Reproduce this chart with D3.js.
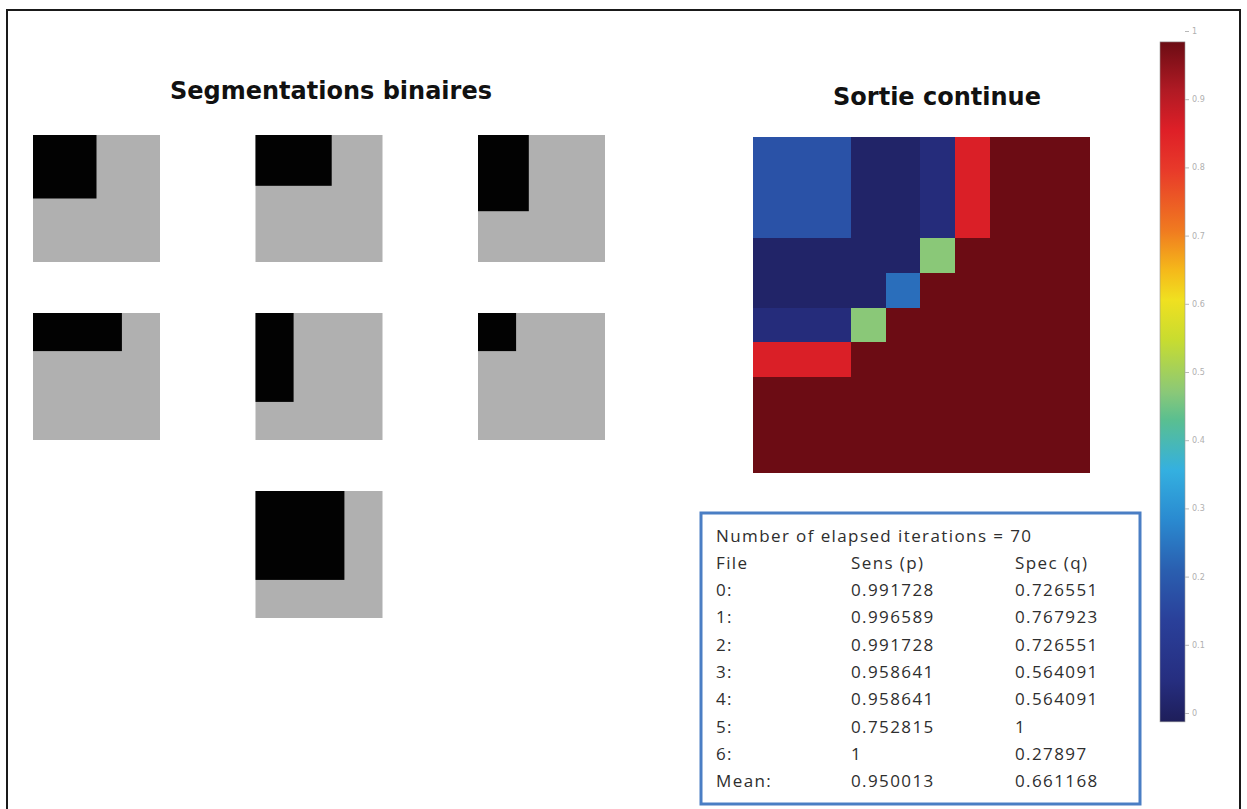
<!DOCTYPE html>
<html><head><meta charset="utf-8">
<script src="https://cdn.jsdelivr.net/npm/d3@7"></script>
<style>body{margin:0;background:#fff}svg{display:block}</style>
</head><body>
<svg id="c" width="1247" height="809"></svg>
<script>
// ---- data ----
const segNames = ["A","B","C","D","E","F","G"];
const segWidth  = [0.5, 0.6, 0.4, 0.7, 0.3, 0.3, 0.7];
const segHeight = [0.5, 0.4, 0.6, 0.3, 0.7, 0.3, 0.7];
const segCol = [0, 1, 2, 0, 1, 2, 1];
const segRow = [0, 0, 0, 1, 1, 1, 2];

// continuous output matrix (rows top->bottom, cols left->right)
const heat = [
  [0.18,0.18,0.18,0.01,0.01,0.04,0.86,1,1,1],
  [0.18,0.18,0.18,0.01,0.01,0.04,0.86,1,1,1],
  [0.18,0.18,0.18,0.01,0.01,0.04,0.86,1,1,1],
  [0.01,0.01,0.01,0.01,0.01,0.47,1,1,1,1],
  [0.01,0.01,0.01,0.01,0.235,1,1,1,1,1],
  [0.04,0.04,0.04,0.47,1,1,1,1,1,1],
  [0.86,0.86,0.86,1,1,1,1,1,1,1],
  [1,1,1,1,1,1,1,1,1,1],
  [1,1,1,1,1,1,1,1,1,1],
  [1,1,1,1,1,1,1,1,1,1]
];

const colorbarTicks = [0,0.1,0.2,0.3,0.4,0.5,0.6,0.7,0.8,0.9,1];
const colorStopValues = [-0.013,0.048,0.136,0.21,0.283,0.356,0.43,0.47,0.547,0.606,0.65,0.708,0.796,0.855,0.913,0.984];
const colorStopColors = ["#1e1e5a","#262e80","#2a409a","#2a5fb0","#2a8ad0","#34b0e0","#5abf90","#8ac878","#c8dc30","#f0e020","#f5b81a","#f07a20","#e83a2a","#de1f27","#b01a24","#6c0c14"];

const iterations = 70;
const tableHeader = ["File","Sens (p)","Spec (q)"];
const fileLabels = ["0:","1:","2:","3:","4:","5:","6:","Mean:"];
const sensValues = ["0.991728","0.996589","0.991728","0.958641","0.958641","0.752815","1","0.950013"];
const specValues = ["0.726551","0.767923","0.726551","0.564091","0.564091","1","0.27897","0.661168"];

// ---- drawing ----
const svg = d3.select("#c");

// frame
svg.append("rect").attr("x",7).attr("y",10).attr("width",1233).attr("height",820)
  .attr("fill","none").attr("stroke","#1a1a1a").attr("stroke-width",2);

// titles
svg.append("text").attr("x",331).attr("y",99).attr("text-anchor","middle")
  .attr("font-family","DejaVu Sans").attr("font-weight","bold").attr("font-size",24)
  .attr("fill","#111").text("Segmentations binaires");
svg.append("text").attr("x",937).attr("y",105).attr("text-anchor","middle")
  .attr("font-family","DejaVu Sans").attr("font-weight","bold").attr("font-size",24)
  .attr("fill","#111").text("Sortie continue");

// binary segmentation panels
const panelX = d3.scaleLinear().domain([0,2]).range([33,478]);
const panelY = d3.scaleLinear().domain([0,2]).range([135,491]);
const panelSize = 127;
const segs = segNames.map((n,i)=>({n, w:segWidth[i], h:segHeight[i], c:segCol[i], r:segRow[i]}));
const pg = svg.selectAll("g.panel").data(segs).join("g").attr("class","panel")
  .attr("transform", d=>`translate(${panelX(d.c)},${panelY(d.r)})`);
const fx = d3.scaleLinear().domain([0,1]).range([0,panelSize]);
const fy = d3.scaleLinear().domain([0,1]).range([0,panelSize]);
pg.append("rect").attr("width",fx(1)).attr("height",fy(1)).attr("fill","#b0b0b0");
pg.append("rect").attr("width",d=>fx(d.w)).attr("height",d=>fy(d.h)).attr("fill","#020202");

// colour scale
const color = d3.scaleLinear().domain(colorStopValues).range(colorStopColors).clamp(true);

// heatmap
const hx = d3.scaleLinear().domain([0.17,9.89]).range([753,1090]);
const hy = d3.scaleLinear().domain([0.07,9.77]).range([137,473]);
svg.append("clipPath").attr("id","hclip").append("rect")
  .attr("x",hx(0.17)).attr("y",hy(0.07)).attr("width",hx(9.89)-hx(0.17)).attr("height",hy(9.77)-hy(0.07));
const cells = [];
heat.forEach((row,r)=>row.forEach((v,c)=>cells.push({r,c,v})));
svg.append("g").attr("clip-path","url(#hclip)").attr("shape-rendering","crispEdges")
  .selectAll("rect").data(cells).join("rect")
  .attr("x",d=>Math.round(hx(d.c))).attr("y",d=>Math.round(hy(d.r)))
  .attr("width",d=>Math.round(hx(d.c+1))-Math.round(hx(d.c))+1)
  .attr("height",d=>Math.round(hy(d.r+1))-Math.round(hy(d.r))+1)
  .attr("fill",d=>color(d.v));

// colorbar
const cb = d3.scaleLinear().domain([0,1]).range([713,31]);
const cbLo = colorStopValues[0], cbHi = colorStopValues[colorStopValues.length-1];
const grad = svg.append("defs").append("linearGradient").attr("id","cbgrad")
  .attr("x1",0).attr("y1",1).attr("x2",0).attr("y2",0);
grad.selectAll("stop").data(colorStopValues).join("stop")
  .attr("offset",(d)=>(d-cbLo)/(cbHi-cbLo))
  .attr("stop-color",(d,i)=>colorStopColors[i]);
svg.append("rect").attr("x",1160).attr("y",cb(cbHi)).attr("width",25)
  .attr("height",cb(cbLo)-cb(cbHi)).attr("fill","url(#cbgrad)")
  .attr("stroke","#9a9a9a").attr("stroke-width",0.6);
const ax = svg.append("g").attr("transform","translate(1185,0)")
  .call(d3.axisRight(cb).tickValues(colorbarTicks).tickFormat(d3.format("~g")).tickSize(4));
ax.select(".domain").remove();
ax.selectAll(".tick line").attr("stroke","#b8b8b8");
ax.selectAll(".tick text").attr("fill","#b0b0b0").attr("font-size",8)
  .attr("font-family","DejaVu Sans");

// text box
svg.append("rect").attr("x",701).attr("y",513).attr("width",439).attr("height",291)
  .attr("fill","#fff").attr("stroke","#4a7ec4").attr("stroke-width",3);
const tf = {family:"Open Sans", size:17, fill:"#2e2e2e"};
const lineY = d3.scaleLinear().domain([0,1]).range([541.5,568.8]);
const tg = svg.append("g").attr("font-family",tf.family).attr("font-size",tf.size)
  .attr("fill",tf.fill).attr("letter-spacing",1.4);
tg.append("text").attr("x",716).attr("y",lineY(0)).text(`Number of elapsed iterations = ${iterations}`);
const colX = [716, 851, 1015];
tableHeader.forEach((h,i)=>tg.append("text").attr("x",colX[i]).attr("y",lineY(1)).text(h));
fileLabels.forEach((f,i)=>{
  tg.append("text").attr("x",colX[0]).attr("y",lineY(i+2)).text(f);
  tg.append("text").attr("x",colX[1]).attr("y",lineY(i+2)).text(sensValues[i]);
  tg.append("text").attr("x",colX[2]).attr("y",lineY(i+2)).text(specValues[i]);
});
</script>
</body></html>
